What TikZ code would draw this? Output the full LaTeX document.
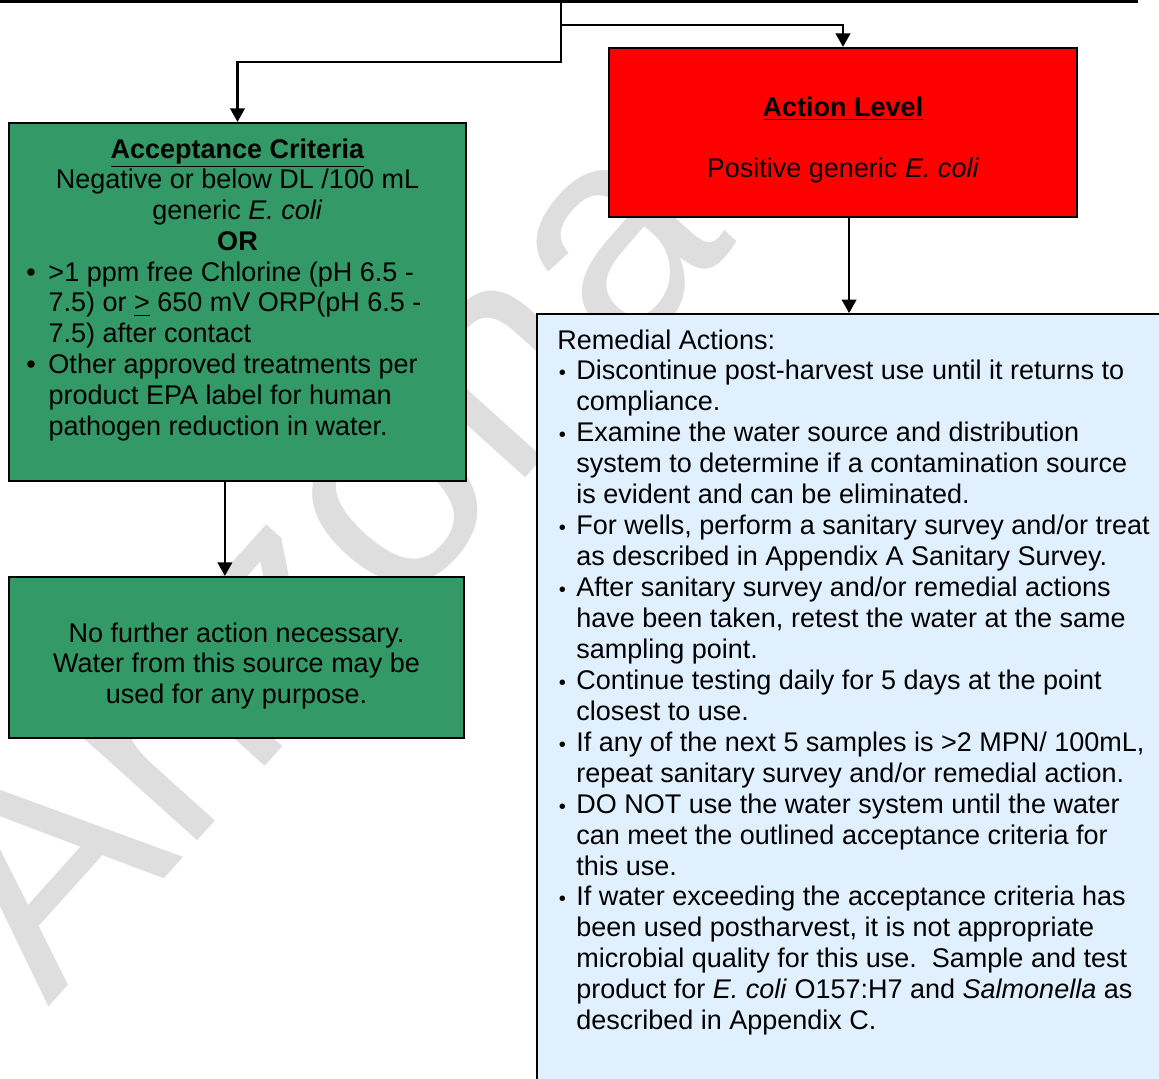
\documentclass[tikz,border=0pt]{standalone}
\usepackage{fontspec}
\setmainfont{Liberation Sans}
\usetikzlibrary{arrows.meta}

\definecolor{accgreen}{RGB}{51,153,102}
\definecolor{actred}{RGB}{255,0,0}
\definecolor{remblue}{RGB}{225,240,255}
\definecolor{wmgray}{RGB}{222,222,222}

% bullets for the two lists
\newcommand{\gbul}{\makebox[9.8pt][l]{\textbullet}}
\newcommand{\gind}{\hspace*{9.8pt}}
\newcommand{\bbul}{\makebox[8.4pt][l]{\hspace{0.6pt}{\fontsize{9}{9}\selectfont\textbullet}}}
\newcommand{\bind}{\hspace*{8.4pt}}

\begin{document}
\begin{tikzpicture}[x=0.4444pt,y=-0.4444pt,
  box/.style={draw=black, line width=1pt, inner sep=0pt},
  flow/.style={line width=0.9pt, -{Triangle[length=6pt,width=6.5pt]}},
  txt/.style={inner sep=0pt, font=\fontsize{12}{13.75}\selectfont},
  wmark/.style={inner sep=0pt, text=wmgray, rotate=48, font=\fontsize{135}{135}\selectfont}]
\useasboundingbox (0,0) rectangle (1159,1078);

%Watermark
\node[wmark] (wm) at (312,552) {Arizona};

%Shape: top box (only its lower edge shows)
\draw[box, fill=white] (-20,-40) rectangle (1137,1.5);
\coordinate (split) at (561,1.5);

%Shape: boxes
\node[box, fill=accgreen, minimum width=203.1pt, minimum height=159.1pt] (accept) at (237.5,302) {};
\node[box, fill=actred, minimum width=208pt, minimum height=75.1pt] (action) at (843,132.5) {};
\node[box, fill=accgreen, minimum width=202.2pt, minimum height=71.6pt] (nofurther) at (236.5,657.5) {};
\node[box, fill=remblue, minimum width=287pt, minimum height=350pt] (remedial) at (860,708) {};

%Connectors
\draw[flow] (split) -- ++(0,23.5) -| (action.north);
\draw[flow] (split) -- ++(0,60.5) -| (accept.north);
\draw[flow] ([xshift=-5.6pt]accept.south) -- ([xshift=-5.6pt]accept.south |- nofurther.north);
\draw[flow] ([xshift=2.7pt]action.south) -- ([xshift=2.7pt]action.south |- remedial.north);

% Text Node
\node[txt, anchor=north, align=center] (accepthead) at (237.5,138) {\underline{\textbf{Acceptance Criteria}}\\Negative or below DL /100 mL\\generic \textit{E. coli}\\\textbf{OR}};
% Text Node
\node[txt, anchor=north west, align=left] (acceptlist) at (26,261) {\gbul>1 ppm free Chlorine (pH 6.5 -\\\gind 7.5) or \underline{>} 650 mV ORP(pH 6.5 -\\\gind 7.5) after contact\\\gbul Other approved treatments per\\\gind product EPA label for human\\\gind pathogen reduction in water.};
% Text Node
\node[txt, anchor=north, align=center] (actiontext) at (843,96) {\underline{\textbf{Action Level}}\\[13.75pt]Positive generic \textit{E. coli}};
% Text Node
\node[txt, anchor=north, align=center] (nofurthertext) at (236.5,622) {No further action necessary.\\Water from this source may be\\used for any purpose.};
% Text Node
\node[txt, anchor=north west, align=left] (remtext) at (557,329) {Remedial Actions:\\
\bbul Discontinue post-harvest use until it returns to\\
\bind compliance.\\
\bbul Examine the water source and distribution\\
\bind system to determine if a contamination source\\
\bind is evident and can be eliminated.\\
\bbul For wells, perform a sanitary survey and/or treat\\
\bind as described in Appendix A Sanitary Survey.\\
\bbul After sanitary survey and/or remedial actions\\
\bind have been taken, retest the water at the same\\
\bind sampling point.\\
\bbul Continue testing daily for 5 days at the point\\
\bind closest to use.\\
\bbul If any of the next 5 samples is >2 MPN/ 100mL,\\
\bind repeat sanitary survey and/or remedial action.\\
\bbul DO NOT use the water system until the water\\
\bind can meet the outlined acceptance criteria for\\
\bind this use.\\
\bbul If water exceeding the acceptance criteria has\\
\bind been used postharvest, it is not appropriate\\
\bind microbial quality for this use.\ \ Sample and test\\
\bind product for \textit{E. coli} O157:H7 and \textit{Salmonella} as\\
\bind described in Appendix C.};

\end{tikzpicture}
\end{document}
